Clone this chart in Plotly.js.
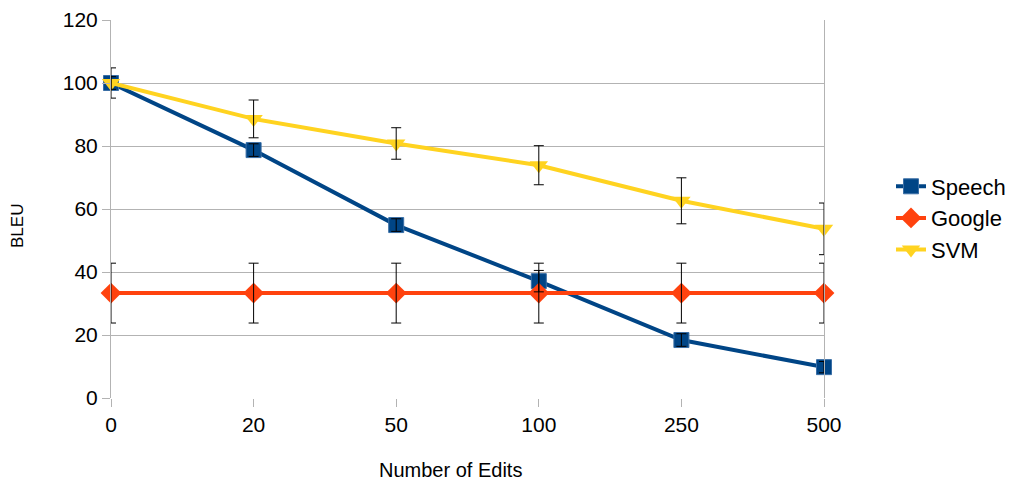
<!DOCTYPE html>
<html>
<head>
<meta charset="utf-8">
<script src="https://cdn.plot.ly/plotly-3.0.1.min.js"></script>
<style>html,body{margin:0;padding:0;background:#fff;}#chart{width:1011px;height:481px;}</style>
</head>
<body>
<div id="chart"></div>
<script>
const categories = ["0", "20", "50", "100", "250", "500"];
const speech = [100, 78.7, 54.9, 37.1, 18.4, 9.8];
const speechErr = [2, 2, 2, 3.4, 2, 1.8];
const google = [33.3, 33.3, 33.3, 33.3, 33.3, 33.3];
const googleErr = [9.5, 9.5, 9.5, 9.5, 9.5, 9.5];
const svm = [100, 88.6, 80.8, 73.9, 62.6, 53.7];
const svmErr = [4.8, 6, 5, 6.2, 7.3, 8.2];
const yTicks = [0, 20, 40, 60, 80, 100, 120];
const xTitle = 'Number of Edits';
const yTitle = 'BLEU';

function errBar(arr) {
  return {type: 'data', array: arr, visible: true, color: '#000000', thickness: 1, width: 5};
}
function errTrace(y, arr) {
  return {x: categories, y: y, type: 'scatter', mode: 'markers', showlegend: false, cliponaxis: false,
          marker: {size: 1, opacity: 0, color: '#000000'}, error_y: errBar(arr), hoverinfo: 'skip'};
}

const traces = [
  {name: 'Speech', x: categories, y: speech, type: 'scatter', mode: 'lines+markers', cliponaxis: false,
   line: {color: '#004586', width: 4},
   marker: {symbol: 'square', size: 15, color: '#004586', line: {color: '#3a6ea5', width: 1}}},
  {name: 'Google', x: categories, y: google, type: 'scatter', mode: 'lines+markers', cliponaxis: false,
   line: {color: '#ff420e', width: 4}, marker: {symbol: 'diamond', size: 16, color: '#ff420e'}},
  {name: 'SVM', x: categories, y: svm, type: 'scatter', mode: 'lines+markers', cliponaxis: false,
   line: {color: '#ffd320', width: 4}, marker: {symbol: 'triangle-down', size: 16, color: '#ffd320'}},
  errTrace(speech, speechErr),
  errTrace(google, googleErr),
  errTrace(svm, svmErr)
];

const W = 1011, H = 481;
const layout = {
  width: W, height: H,
  margin: {l: 111, r: 187, t: 20, b: 83},
  paper_bgcolor: '#ffffff', plot_bgcolor: '#ffffff',
  font: {family: 'Liberation Sans, Arial, sans-serif', color: '#000000', size: 21},
  showlegend: true,
  legend: {xref: 'container', yref: 'container', x: 891 / W, y: 1 - 218 / H,
           xanchor: 'left', yanchor: 'middle', font: {size: 22}, tracegroupgap: 0},
  xaxis: {type: 'category', range: [0, 5], showgrid: false,
          ticks: 'outside', ticklen: 8, tickcolor: '#b3b3b3', showline: false, zeroline: false,
          tickfont: {size: 21}, automargin: false},
  yaxis: {range: [0, 120], tickvals: yTicks, showgrid: true, gridcolor: '#b3b3b3', gridwidth: 1,
          ticks: 'outside', ticklen: 8, tickcolor: '#b3b3b3',
          showline: true, mirror: true, linecolor: '#b3b3b3', linewidth: 1, zeroline: false,
          tickfont: {size: 21}, automargin: false},
  annotations: [
    {text: xTitle, xref: 'paper', yref: 'paper', x: (450 - 111) / 713, y: -(470 - 398) / 378,
     xanchor: 'center', yanchor: 'middle', showarrow: false, font: {size: 20}},
    {text: yTitle, xref: 'paper', yref: 'paper', x: -(111 - 17) / 713, y: (398 - 226) / 378,
     xanchor: 'center', yanchor: 'middle', showarrow: false, textangle: -90, font: {size: 17}}
  ]
};

Plotly.newPlot('chart', traces, layout, {displayModeBar: false, staticPlot: true});
</script>
</body>
</html>
